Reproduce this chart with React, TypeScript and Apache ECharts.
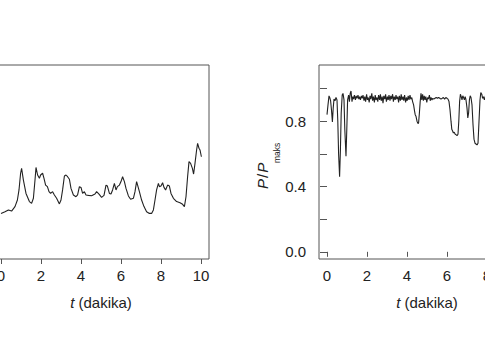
import React, { useEffect, useRef } from "react";
import * as echarts from "echarts";

const FONT = "'Liberation Sans', Arial, Helvetica, sans-serif";

const xTicks = [0, 2, 4, 6, 8, 10];
const yTicksRight = [0, 0.2, 0.4, 0.6, 0.8, 1.0];
const yLabelsRight = [0, 0.4, 0.8];

const leftT = [0.0, 0.2, 0.37, 0.53, 0.7, 0.82, 0.9, 0.98, 1.03, 1.12, 1.25, 1.42, 1.53, 1.62, 1.7, 1.75, 1.83, 1.92, 1.98, 2.08, 2.15, 2.23, 2.32, 2.4, 2.48, 2.58, 2.67, 2.78, 2.92, 3.0, 3.08, 3.17, 3.25, 3.33, 3.42, 3.5, 3.62, 3.75, 3.83, 3.92, 4.0, 4.08, 4.17, 4.25, 4.37, 4.53, 4.7, 4.78, 4.9, 5.03, 5.15, 5.25, 5.32, 5.42, 5.5, 5.58, 5.67, 5.75, 5.82, 5.92, 6.0, 6.08, 6.17, 6.25, 6.37, 6.48, 6.62, 6.7, 6.78, 6.83, 6.92, 7.03, 7.15, 7.28, 7.42, 7.53, 7.62, 7.7, 7.78, 7.87, 7.92, 8.0, 8.08, 8.15, 8.23, 8.33, 8.42, 8.5, 8.62, 8.78, 8.95, 9.08, 9.17, 9.25, 9.33, 9.4, 9.48, 9.57, 9.63, 9.7, 9.78, 9.83, 9.9, 9.95, 10.02];
const leftV = [23.5, 24.4, 25.3, 24.7, 27.0, 30.4, 35.6, 44.2, 46.7, 40.7, 33.8, 29.6, 28.7, 31.3, 40.7, 47.2, 43.3, 41.6, 43.3, 44.2, 41.6, 38.1, 37.3, 34.7, 33.8, 34.7, 33.0, 31.3, 28.4, 30.4, 35.6, 42.8, 43.3, 42.4, 41.1, 36.4, 33.0, 32.1, 33.0, 37.3, 36.9, 33.8, 34.7, 33.0, 32.8, 32.6, 33.5, 34.7, 33.4, 31.8, 32.8, 38.1, 37.6, 33.8, 33.5, 35.6, 39.0, 35.6, 37.3, 38.1, 39.9, 42.4, 39.9, 36.4, 32.5, 30.8, 31.3, 34.7, 39.9, 38.1, 34.7, 30.4, 27.0, 24.4, 23.5, 23.5, 25.3, 30.4, 35.6, 39.0, 37.3, 37.6, 39.3, 36.9, 35.6, 38.1, 37.6, 33.8, 31.3, 29.6, 29.0, 28.2, 27.0, 32.1, 42.4, 50.2, 49.3, 46.7, 43.8, 49.3, 56.2, 59.6, 57.1, 56.2, 52.7];

const rightT = [0.0, 0.05, 0.1, 0.15, 0.18, 0.23, 0.27, 0.31, 0.35, 0.4, 0.45, 0.5, 0.54, 0.58, 0.63, 0.67, 0.71, 0.76, 0.8, 0.85, 0.89, 0.95, 0.99, 1.03, 1.08, 1.12, 1.16, 1.2, 1.25, 1.29, 1.33, 1.37, 1.42, 1.46, 1.5, 1.55, 1.59, 1.63, 1.67, 1.72, 1.76, 1.8, 1.85, 1.89, 1.93, 1.98, 2.02, 2.06, 2.11, 2.15, 2.19, 2.24, 2.28, 2.32, 2.37, 2.41, 2.45, 2.5, 2.54, 2.58, 2.63, 2.67, 2.71, 2.76, 2.8, 2.84, 2.89, 2.93, 2.97, 3.02, 3.06, 3.1, 3.15, 3.19, 3.23, 3.28, 3.32, 3.36, 3.41, 3.45, 3.49, 3.54, 3.58, 3.62, 3.67, 3.71, 3.75, 3.8, 3.84, 3.88, 3.93, 3.97, 4.01, 4.06, 4.1, 4.15, 4.19, 4.24, 4.28, 4.33, 4.38, 4.41, 4.45, 4.5, 4.55, 4.58, 4.62, 4.66, 4.7, 4.74, 4.78, 4.82, 4.86, 4.9, 4.94, 4.99, 5.03, 5.07, 5.12, 5.16, 5.2, 5.25, 5.29, 5.34, 5.4, 5.46, 5.52, 5.58, 5.64, 5.7, 5.76, 5.82, 5.88, 5.94, 6.0, 6.05, 6.1, 6.15, 6.2, 6.24, 6.28, 6.32, 6.36, 6.41, 6.46, 6.5, 6.55, 6.59, 6.63, 6.67, 6.71, 6.75, 6.79, 6.83, 6.87, 6.91, 6.95, 7.0, 7.04, 7.08, 7.12, 7.16, 7.2, 7.25, 7.3, 7.35, 7.4, 7.45, 7.5, 7.55, 7.6, 7.65, 7.69, 7.74, 7.78, 7.82, 7.87, 7.92, 7.97];
const rightV = [0.84, 0.9, 0.955, 0.94, 0.925, 0.86, 0.795, 0.88, 0.935, 0.925, 0.945, 0.93, 0.8, 0.6, 0.46, 0.62, 0.85, 0.96, 0.97, 0.93, 0.75, 0.585, 0.75, 0.93, 0.96, 0.92, 0.97, 0.985, 0.92, 0.95, 0.935, 0.96, 0.93, 0.955, 0.94, 0.96, 0.935, 0.95, 0.93, 0.955, 0.94, 0.96, 0.925, 0.95, 0.92, 0.965, 0.93, 0.945, 0.915, 0.955, 0.935, 0.97, 0.925, 0.95, 0.915, 0.96, 0.93, 0.945, 0.92, 0.96, 0.93, 0.965, 0.925, 0.95, 0.91, 0.955, 0.935, 0.965, 0.92, 0.95, 0.93, 0.96, 0.925, 0.955, 0.935, 0.965, 0.92, 0.95, 0.93, 0.96, 0.935, 0.95, 0.915, 0.955, 0.925, 0.965, 0.93, 0.95, 0.925, 0.96, 0.915, 0.945, 0.925, 0.955, 0.93, 0.96, 0.935, 0.945, 0.92, 0.9, 0.86, 0.84, 0.83, 0.8, 0.785, 0.79, 0.85, 0.92, 0.97, 0.93, 0.965, 0.925, 0.955, 0.93, 0.95, 0.915, 0.945, 0.935, 0.96, 0.925, 0.945, 0.93, 0.94, 0.935, 0.94, 0.945, 0.94, 0.945, 0.94, 0.935, 0.94, 0.945, 0.935, 0.945, 0.94, 0.935, 0.92, 0.87, 0.8, 0.75, 0.74, 0.728, 0.732, 0.72, 0.716, 0.712, 0.72, 0.8, 0.92, 0.965, 0.95, 0.93, 0.955, 0.945, 0.93, 0.95, 0.93, 0.88, 0.82, 0.85, 0.93, 0.955, 0.945, 0.9, 0.78, 0.69, 0.665, 0.66, 0.655, 0.665, 0.8, 0.93, 0.975, 0.965, 0.94, 0.95, 0.93, 0.955, 0.94];

const OX = 60;

export default function App() {
  const ref = useRef<HTMLDivElement>(null);
  useEffect(() => {
    if (!ref.current) return;
    const chart = echarts.init(ref.current, undefined, { renderer: "svg" });
    const leftData = leftT.map((t, i) => [t, leftV[i]]);
    const rightData = rightT.map((t, i) => [t, rightV[i]]);
    const xAxisBase = (gridIndex: number) => ({
      type: "value" as const,
      gridIndex,
      min: -0.4,
      max: 10.4,
      splitLine: { show: false },
      axisLine: { show: false },
      axisTick: { show: true, length: 5, lineStyle: { color: "#555", width: 1 }, customValues: xTicks },
      axisLabel: { show: true, customValues: xTicks, fontSize: 15, color: "#222", fontFamily: FONT, margin: 9 },
      name: "{i|t} (dakika)",
      nameLocation: "middle" as const,
      nameGap: 36,
      nameTextStyle: {
        fontSize: 15,
        color: "#222",
        fontFamily: FONT,
        rich: { i: { fontStyle: "italic", fontSize: 15, color: "#222", fontFamily: FONT } },
      },
    });
    chart.setOption({
      animation: false,
      grid: [
        { left: -7 + OX, width: 216, top: 65, height: 194, show: true, borderColor: "#555", borderWidth: 1, backgroundColor: "transparent" },
        { left: 319 + OX, width: 216, top: 65, height: 194, show: true, borderColor: "#555", borderWidth: 1, backgroundColor: "transparent" },
      ],
      xAxis: [xAxisBase(0), xAxisBase(1)],
      yAxis: [
        {
          type: "value",
          gridIndex: 0,
          min: 0,
          max: 100,
          splitLine: { show: false },
          axisLine: { show: false },
          axisTick: { show: false },
          axisLabel: { show: false },
        },
        {
          type: "value",
          gridIndex: 1,
          min: -0.044,
          max: 1.144,
          splitLine: { show: false },
          axisLine: { show: false },
          axisTick: { show: true, length: 7, lineStyle: { color: "#555", width: 1 }, customValues: yTicksRight },
          axisLabel: {
            show: true,
            customValues: yLabelsRight,
            formatter: (v: number) => v.toFixed(1),
            fontSize: 15,
            color: "#222",
            fontFamily: FONT,
            margin: 13,
          },
        },
      ],
      graphic: [
        {
          type: "text",
          left: 0,
          top: 0,
          x: 193 + OX,
          y: 81.5,
          style: {
            text: "(a)",
            fontSize: 17,
            fontWeight: "bold",
            fontFamily: FONT,
            fill: "#111",
            align: "center",
            verticalAlign: "middle",
          },
        },
        {
          type: "group",
          x: 262 + OX,
          y: 189,
          rotation: Math.PI / 2,
          children: [
            {
              type: "text",
              x: 0,
              y: 0,
              style: {
                text: "{i|P}{s|/}{i|P}",
                fontSize: 15,
                fontFamily: FONT,
                fill: "#222",
                align: "left",
                verticalAlign: "middle",
                rich: {
                  i: { fontStyle: "italic", fontSize: 15, fontFamily: FONT, fill: "#222" },
                  s: { fontSize: 15, fontFamily: FONT, fill: "#222", padding: [0, 1, 0, 1] },
                },
              },
            },
            {
              type: "text",
              x: 26,
              y: 19,
              style: {
                text: "maks",
                fontSize: 8.5,
                fontFamily: FONT,
                fill: "#222",
                align: "left",
                verticalAlign: "bottom",
              },
            },
          ],
        },
      ],
      series: [
        {
          type: "line",
          xAxisIndex: 0,
          yAxisIndex: 0,
          data: leftData,
          showSymbol: false,
          symbol: "none",
          lineStyle: { color: "#222", width: 1.1 },
          clip: true,
        },
        {
          type: "line",
          xAxisIndex: 1,
          yAxisIndex: 1,
          data: rightData,
          showSymbol: false,
          symbol: "none",
          lineStyle: { color: "#222", width: 1.1 },
          clip: true,
        },
      ],
    });
    return () => chart.dispose();
  }, []);
  return (
    <div style={{ position: "fixed", left: 0, top: 0, width: 485, height: 360, overflow: "hidden", background: "#fff" }}>
      <div ref={ref} style={{ position: "absolute", left: -OX, top: 0, width: 620, height: 360 }} />
    </div>
  );
}
